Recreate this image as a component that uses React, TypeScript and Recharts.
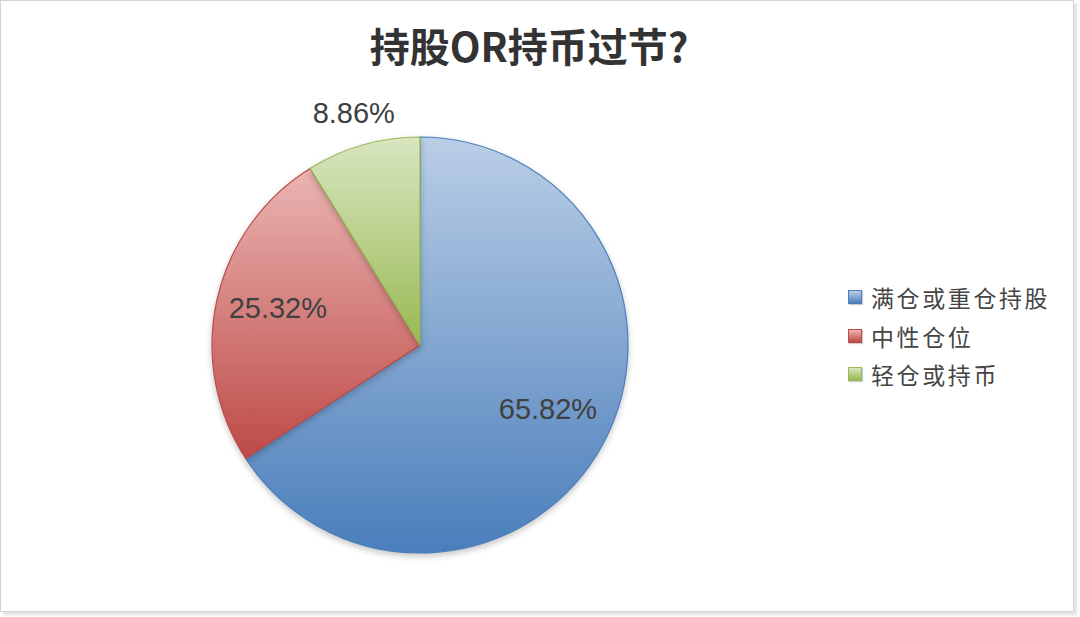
import { PieChart, Pie, Cell, Legend } from "recharts";

const title = "持股OR持币过节?";
const categories = ["满仓或重仓持股", "中性仓位", "轻仓或持币"];
const shares = [65.82, 25.32, 8.86];

const fills = [
  { top: "#bacee6", bottom: "#4a7ebb", stroke: "#4a7ebb" },
  { top: "#ebb5b3", bottom: "#bd4a47", stroke: "#be4b48" },
  { top: "#d9e6c0", bottom: "#98b954", stroke: "#98b954" },
];

const data = categories.map((name, i) => ({ name, value: shares[i] }));

const RAD = Math.PI / 180;

function renderLabel(props: any) {
  const { cx, cy, midAngle, outerRadius, value, index } = props;
  // small slice label sits outside, the others inside
  const outside = index === 2;
  const r = outside ? outerRadius + 33 : outerRadius * 0.7;
  const x = cx + r * Math.cos(-midAngle * RAD);
  const y = cy + r * Math.sin(-midAngle * RAD) + (outside ? 0 : -5);
  return (
    <text
      x={x}
      y={y}
      fill="#404040"
      fontSize={29}
      fontFamily="'Liberation Sans', Arial, sans-serif"
      textAnchor="middle"
      dominantBaseline="central"
    >
      {`${value.toFixed(2)}%`}
    </text>
  );
}

function renderLegend() {
  return (
    <div>
      {categories.map((name, i) => (
        <div
          key={name}
          style={{ display: "flex", alignItems: "center", height: 38.5 }}
        >
          <span
            style={{
              width: 12,
              height: 12,
              marginRight: 9,
              border: `1px solid ${fills[i].stroke}`,
              background: `linear-gradient(${fills[i].top}, ${fills[i].bottom})`,
              boxShadow: "1px 1px 1px rgba(0,0,0,0.2)",
            }}
          />
          <span
            style={{
              fontSize: 23,
              letterSpacing: 2.6,
              color: "#454545",
              fontFamily: "'Noto Sans CJK SC', sans-serif",
            }}
          >
            {name}
          </span>
        </div>
      ))}
    </div>
  );
}

export default function App() {
  return (
    <div
      style={{
        position: "absolute",
        left: 0,
        top: 0,
        width: 1080,
        height: 617,
        background: "#fff",
      }}
    >
      <style>{`.recharts-pie-sector { filter: drop-shadow(0px 3px 3px rgba(0,0,0,0.22)); }`}</style>
      <div
        style={{
          position: "absolute",
          left: 0,
          top: 0,
          width: 1072,
          height: 610,
          border: "1px solid #d4d4d4",
          boxShadow: "3px 3px 2px #e4e4e4",
        }}
      />
      <div
        style={{
          position: "absolute",
          left: 0,
          top: 16,
          width: 1058,
          textAlign: "center",
          fontSize: 40,
          fontWeight: 700,
          color: "#333",
          fontFamily: "'Noto Sans CJK SC', sans-serif",
        }}
      >
        {title}
      </div>
      <div style={{ position: "absolute", left: 0, top: 0 }}>
        <PieChart
          width={1080}
          height={617}
          margin={{ top: 0, right: 0, bottom: 0, left: 0 }}
        >
          <defs>
            {fills.map((f, i) => (
              <linearGradient key={i} id={`g${i}`} x1="0" y1="0" x2="0" y2="1">
                <stop offset="0%" stopColor={f.top} />
                <stop offset="100%" stopColor={f.bottom} />
              </linearGradient>
            ))}
          </defs>
          <Pie
            data={data}
            dataKey="value"
            nameKey="name"
            cx={420}
            cy={345}
            outerRadius={208}
            startAngle={90}
            endAngle={-270}
            label={renderLabel}
            labelLine={false}
            isAnimationActive={false}
          >
            {data.map((d, i) => (
              <Cell
                key={d.name}
                fill={`url(#g${i})`}
                stroke={fills[i].stroke}
                strokeWidth={1.2}
              />
            ))}
          </Pie>
          <Legend
            content={renderLegend}
            wrapperStyle={{ left: 848, top: 278, width: 230 }}
          />
        </PieChart>
      </div>
    </div>
  );
}
